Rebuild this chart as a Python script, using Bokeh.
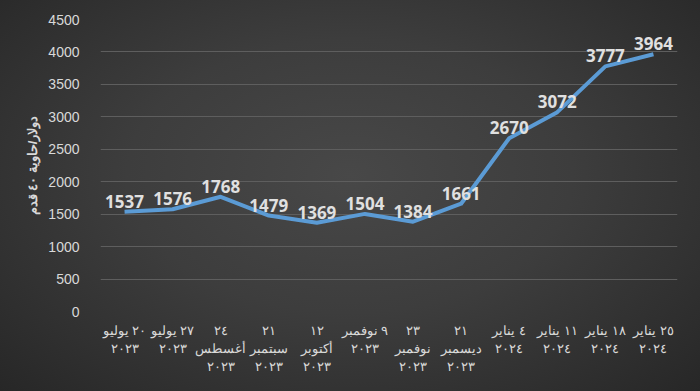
from bokeh.plotting import figure
from bokeh.models import ColumnDataSource, FixedTicker, Range1d
from bokeh.core.properties import value
from bokeh.embed import file_html
from bokeh.resources import INLINE

dates = [
    "٢٠ يوليو\n٢٠٢٣",
    "٢٧ يوليو\n٢٠٢٣",
    "٢٤\nأغسطس\n٢٠٢٣",
    "٢١\nسبتمبر\n٢٠٢٣",
    "١٢\nأكتوبر\n٢٠٢٣",
    "٩ نوفمبر\n٢٠٢٣",
    "٢٣\nنوفمبر\n٢٠٢٣",
    "٢١\nديسمبر\n٢٠٢٣",
    "٤ يناير\n٢٠٢٤",
    "١١ يناير\n٢٠٢٤",
    "١٨ يناير\n٢٠٢٤",
    "٢٥ يناير\n٢٠٢٤",
]
prices = [1537, 1576, 1768, 1479, 1369, 1504, 1384, 1661, 2670, 3072, 3777, 3964]
y_ticks = [0, 500, 1000, 1500, 2000, 2500, 3000, 3500, 4000, 4500]
y_title = "دولار/حاوية ٤٠ قدم"

xs = list(range(len(dates)))
src = ColumnDataSource(dict(x=xs, y=prices, lbl=[str(v) for v in prices]))

p = figure(width=700, height=391, output_backend="svg", toolbar_location=None,
           x_range=Range1d(-0.5, len(dates) - 0.5), y_range=Range1d(0, 4500),
           min_border_left=100, min_border_right=23, min_border_top=19, min_border_bottom=80)

p.styles = {"background": "radial-gradient(ellipse at 50% 45%, #484848 0%, #3d3d3d 45%, #272727 100%)"}
p.background_fill_alpha = 0
p.border_fill_alpha = 0
p.outline_line_color = None

p.line("x", "y", source=src, line_color="#5b9bd5", line_width=4, line_join="round")
p.text("x", "y", text="lbl", source=src, text_align="center", text_baseline="bottom",
       y_offset=-4, text_color="#e0e0e0", text_font=value("Open Sans"),
       text_font_style="bold", text_font_size="17px")

xa = p.xaxis[0]
xa.ticker = FixedTicker(ticks=xs)
xa.major_label_overrides = {i: d for i, d in enumerate(dates)}
xa.major_label_text_color = "#d9d9d9"
xa.major_label_text_font = "Liberation Sans"
xa.major_label_text_font_size = "13px"
xa.axis_line_color = None
xa.major_tick_line_color = None
xa.minor_tick_line_color = None
xa.major_label_standoff = 5

ya = p.yaxis[0]
ya.ticker = FixedTicker(ticks=y_ticks)
ya.major_label_text_color = "#d9d9d9"
ya.major_label_text_font = "Liberation Sans"
ya.major_label_text_font_size = "14px"
ya.axis_line_color = None
ya.major_tick_line_color = None
ya.minor_tick_line_color = None
ya.major_label_standoff = 15
ya.axis_label = y_title
ya.axis_label_text_color = "#d9d9d9"
ya.axis_label_text_font = "Liberation Sans"
ya.axis_label_text_font_size = "13px"
ya.axis_label_text_font_style = "bold"
ya.axis_label_standoff = 5

p.xgrid.grid_line_color = None
p.ygrid.grid_line_color = "#5e5e5e"
p.ygrid.grid_line_width = 1

open("out.html", "w").write(file_html(p, INLINE))
